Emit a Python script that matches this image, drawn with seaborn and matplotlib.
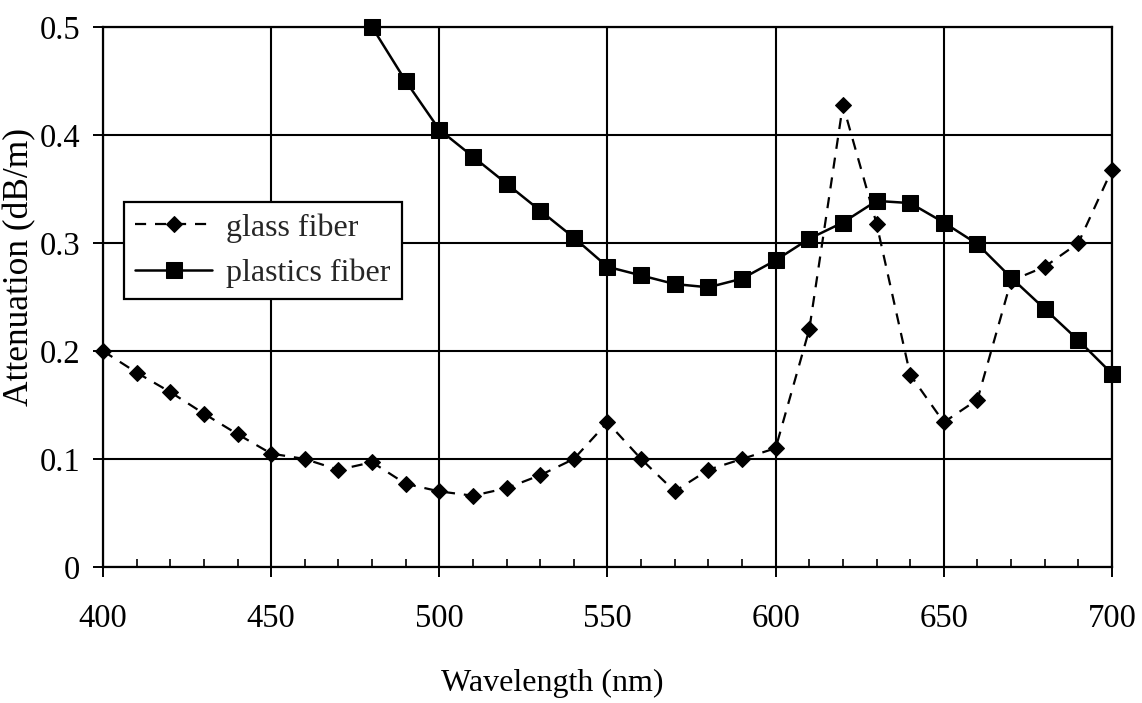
import matplotlib
matplotlib.use("Agg")
import matplotlib.pyplot as plt
import seaborn as sns
import pandas as pd
from matplotlib.ticker import FuncFormatter, MultipleLocator

glass_wl = list(range(400, 701, 10))
glass_att = [0.200, 0.180, 0.162, 0.142, 0.123, 0.105, 0.100, 0.090, 0.097, 0.077,
             0.070, 0.066, 0.073, 0.085, 0.100, 0.134, 0.100, 0.070, 0.090, 0.100,
             0.110, 0.220, 0.428, 0.318, 0.178, 0.134, 0.155, 0.265, 0.278, 0.300,
             0.368]
plastic_wl = list(range(480, 701, 10))
plastic_att = [0.500, 0.450, 0.405, 0.380, 0.355, 0.330, 0.305, 0.278, 0.270, 0.262,
               0.259, 0.267, 0.284, 0.304, 0.319, 0.339, 0.337, 0.319, 0.299, 0.268,
               0.239, 0.210, 0.179]
x_ticks = [400, 450, 500, 550, 600, 650, 700]
y_ticks = [0, 0.1, 0.2, 0.3, 0.4, 0.5]

sns.set_theme(style="white")
plt.rcParams['font.family'] = ['Liberation Serif', 'DejaVu Serif']

fig = plt.figure(figsize=(11.42, 7.03), dpi=100)
ax = fig.add_axes([0.0902, 0.1935, 0.8835, 0.768])

gdf = pd.DataFrame({"wl": glass_wl, "att": glass_att})
pdf = pd.DataFrame({"wl": plastic_wl, "att": plastic_att})

sns.lineplot(data=gdf, x="wl", y="att", ax=ax, color="black", lw=1.6,
             marker="D", markersize=8, markeredgecolor="black",
             label="glass fiber", clip_on=False, zorder=5)
ax.lines[-1].set_dashes([8, 4, 2, 4])
sns.lineplot(data=pdf, x="wl", y="att", ax=ax, color="black", lw=1.8,
             marker="s", markersize=11, markeredgecolor="black",
             label="plastics fiber", clip_on=False, zorder=6)

ax.set_xlim(400, 700)
ax.set_ylim(0, 0.5)
ax.set_xticks(x_ticks)
ax.set_yticks(y_ticks)
ax.xaxis.set_minor_locator(MultipleLocator(10))
ax.yaxis.set_major_formatter(FuncFormatter(lambda v, p: "0" if v == 0 else f"{v:.1f}"))
ax.grid(True, which="major", color="black", lw=1.5)
for s in ax.spines.values():
    s.set_color("black")
    s.set_linewidth(1.6)
ax.tick_params(axis="x", which="major", labelsize=23.5, colors="black", length=7.5,
               width=1.4, direction="out", bottom=True, pad=19)
ax.tick_params(axis="x", which="minor", length=6, width=1.2, direction="in",
               bottom=True, colors="black")
ax.tick_params(axis="y", which="major", labelsize=23.5, colors="black", length=7.5,
               width=1.4, direction="out", left=True, pad=9)
ax.set_xlabel("Wavelength (nm)", fontsize=23, color="black")
ax.set_ylabel("Attenuation (dB/m)", fontsize=25.5, color="black")
ax.xaxis.set_label_coords(0.4455, -0.188)
ax.yaxis.set_label_coords(-0.066, 0.556)

h, l = ax.get_legend_handles_labels()
h[0].set_dashes([5, 4])
leg = ax.legend(h, l, loc="upper left", bbox_to_anchor=(0.021, 0.676), fontsize=23,
                frameon=True, fancybox=False, edgecolor="black", handlelength=2.4,
                borderpad=0.35, labelspacing=0.5, handletextpad=0.45,
                borderaxespad=0)
leg.get_frame().set_linewidth(1.6)
leg.get_frame().set_alpha(1)
leg.set_zorder(10)

fig.savefig("out.png", dpi=100)
